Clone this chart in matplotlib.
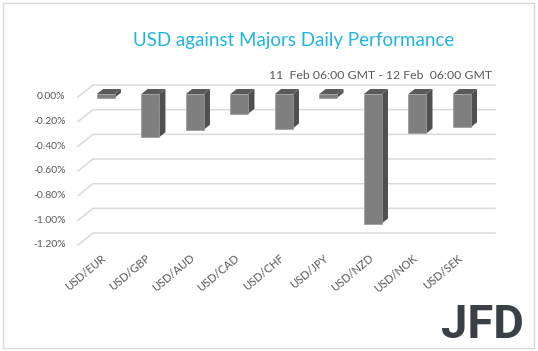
import matplotlib.pyplot as plt
from matplotlib.patches import Polygon, Rectangle

# data (% change)
pairs = ["USD/EUR", "USD/GBP", "USD/AUD", "USD/CAD", "USD/CHF",
         "USD/JPY", "USD/NZD", "USD/NOK", "USD/SEK"]
changes = [-0.03, -0.35, -0.29, -0.16, -0.28, -0.03, -1.05, -0.32, -0.27]
yticks = [0.0, -0.2, -0.4, -0.6, -0.8, -1.0, -1.2]

title = "USD against Majors Daily Performance"
subtitle = "11  Feb 06:00 GMT - 12 Feb  06:00 GMT"

plt.rcParams['font.family'] = ['Lato', 'DejaVu Sans']

fig = plt.figure(figsize=(5.38, 3.51), dpi=100)
ax = fig.add_axes([0.145, 0.302, 0.747, 0.4217])
xmin, xmax = -0.54, 8.49
ax.set_xlim(xmin, xmax)
ax.set_ylim(-1.2, 0.0)
for s in ax.spines.values():
  s.set_visible(False)
ax.set_xticks([])
ax.set_yticks([])

# fake 3d depth: full wall depth in data units
DX = 0.337
DY = 0.097
grid_col = "#d9d9d9"

# back wall gridlines + slanted side lines
for v in yticks:
  ax.plot([xmin, xmin + DX, xmax + DX], [v, v + DY, v + DY],
          color=grid_col, lw=1.1, clip_on=False, zorder=1)
  ax.text(xmin - 0.28, v, "%.2f%%" % v if v != 0 else "0.00%",
          ha="right", va="center", fontsize=7.5, color="#595959")

# bars
w = 0.40
f = 0.25   # front face depth
b = 0.667  # back face depth
for i, v in enumerate(changes):
  x0 = i - w / 2 + f * DX
  x1 = i + w / 2 + f * DX
  y0 = f * DY
  bx = (b - f) * DX
  by = (b - f) * DY
  # side
  ax.add_patch(Polygon([(x1, y0), (x1 + bx, y0 + by), (x1 + bx, y0 + v + by), (x1, y0 + v)],
                       closed=True, facecolor="#4f4f4f", edgecolor="none", clip_on=False, zorder=3))
  # top
  ax.add_patch(Polygon([(x0, y0), (x1, y0), (x1 + bx, y0 + by), (x0 + bx, y0 + by)],
                       closed=True, facecolor="#5a5a5a", edgecolor="none", clip_on=False, zorder=3))
  # front
  ax.add_patch(Rectangle((x0, y0 + v), w, -v, facecolor="#7f7f7f",
                         edgecolor="#9a9a9a", lw=0.5, clip_on=False, zorder=4))
  ax.text(i - 0.02, -1.26, pairs[i], rotation=40, ha="right", va="top",
          fontsize=8, color="#595959", rotation_mode="anchor")

fig.text(0.545, 0.885, title, ha="center", va="center", fontsize=13.5, color="#1fb4e4")
fig.text(0.915, 0.784, subtitle, ha="right", va="center", fontsize=8.8, color="#595959")
fig.text(0.973, 0.075, "JFD", ha="right", va="center", fontsize=34,
         fontweight="bold", color="#3b4046", family="Roboto")

# chart border
fig.add_artist(Rectangle((0.005, 0.008), 0.988, 0.983, transform=fig.transFigure,
                         fill=False, edgecolor="#d9d9d9", lw=1.0))

plt.savefig("out.png", dpi=100)
